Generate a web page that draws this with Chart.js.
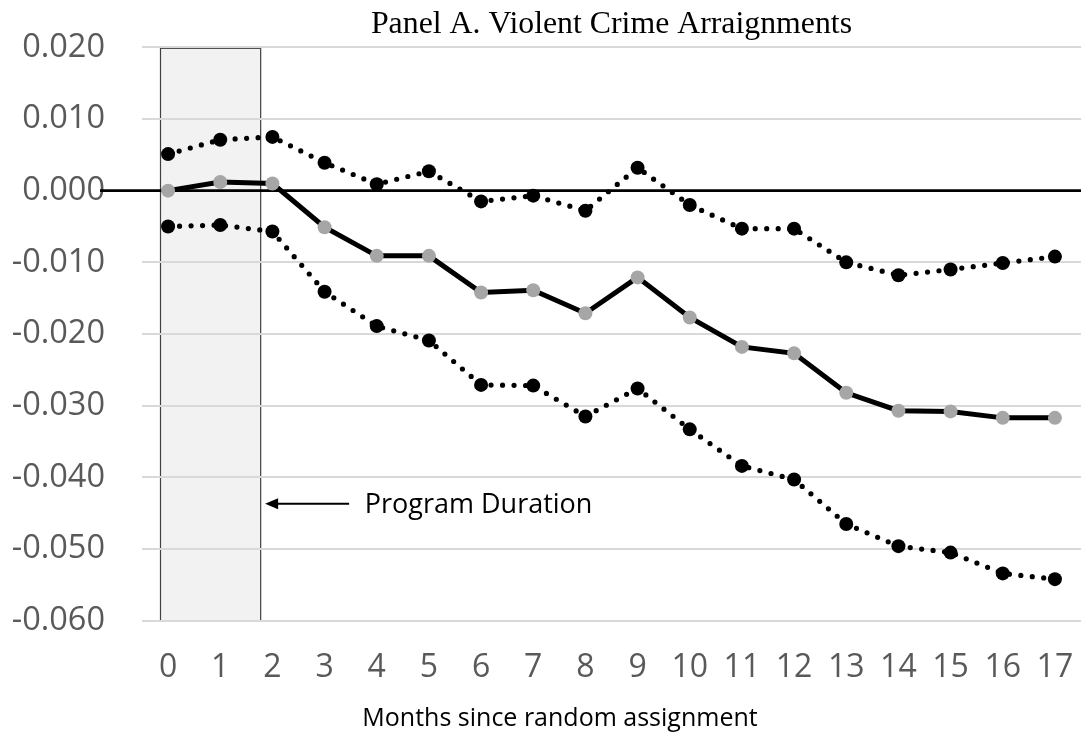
<!DOCTYPE html>
<html>
<head>
<meta charset="utf-8">
<title>Panel A. Violent Crime Arraignments</title>
<script src="https://cdn.jsdelivr.net/npm/chart.js@4.4.1/dist/chart.umd.min.js"></script>
<style>
  html, body { margin: 0; padding: 0; background: #ffffff; overflow: hidden; }
  #wrap { position: relative; width: 1081px; height: 734px; }
  #wrap canvas { display: block; }
</style>
</head>
<body>
<div id="wrap"><canvas id="chart"></canvas></div>
<script>
// Months since random assignment
const months = ['0','1','2','3','4','5','6','7','8','9','10','11','12','13','14','15','16','17'];

// Point estimate and confidence bounds
const estimate = [0.0000, 0.0012, 0.0010, -0.0051, -0.0091, -0.0091, -0.0142, -0.0139, -0.0171,
                  -0.0121, -0.0177, -0.0218, -0.0227, -0.0282, -0.0307, -0.0308, -0.0317, -0.0317];
const upperBound = [0.0051, 0.0071, 0.0075, 0.0039, 0.0009, 0.0027, -0.0015, -0.0007, -0.0028,
                    0.0032, -0.0020, -0.0053, -0.0053, -0.0100, -0.0118, -0.0110, -0.0101, -0.0092];
const lowerBound = [-0.0050, -0.0048, -0.0057, -0.0141, -0.0189, -0.0209, -0.0271, -0.0272, -0.0315,
                    -0.0276, -0.0333, -0.0384, -0.0403, -0.0465, -0.0496, -0.0505, -0.0534, -0.0542];

// Y axis range and step
const yMin = -0.06, yMax = 0.02, yStep = 0.01;

// Program period shading (in month units on the category axis)
const programStart = -0.15, programEnd = 1.77;

const titleText = 'Panel A. Violent Crime Arraignments';
const xTitleText = 'Months since random assignment';
const programText = 'Program Duration';

const tickFont = "'Open Sans', 'Noto Sans', sans-serif";

const overlay = {
  id: 'overlay',
  beforeDraw(chart) {
    const { ctx, scales: { x, y } } = chart;
    // shaded program-duration box
    const x0 = x.getPixelForValue(programStart);
    const x1 = x.getPixelForValue(programEnd);
    const y0 = y.getPixelForValue(yMax);
    const y1 = y.getPixelForValue(yMin);
    ctx.save();
    ctx.fillStyle = '#f2f2f2';
    ctx.fillRect(x0, y0, x1 - x0, y1 - y0);
    ctx.strokeStyle = '#404040';
    ctx.lineWidth = 1.2;
    ctx.strokeRect(Math.round(x0) + 0.5, y0 + 1, x1 - x0, y1 - y0 - 1);
    ctx.restore();
  },
  beforeDatasetsDraw(chart) {
    const { ctx, chartArea, scales: { x, y } } = chart;
    ctx.save();
    // zero reference line
    const yz = y.getPixelForValue(0);
    ctx.strokeStyle = '#000000';
    ctx.lineWidth = 2.6;
    ctx.beginPath();
    ctx.moveTo(chartArea.left - 42, yz);
    ctx.lineTo(chartArea.right, yz);
    ctx.stroke();

    // arrow pointing at the program box
    const ay = y.getPixelForValue(-0.0437);
    const tipX = x.getPixelForValue(1.86);
    const tailX = x.getPixelForValue(3.47);
    ctx.lineWidth = 2;
    ctx.beginPath();
    ctx.moveTo(tipX + 8, ay);
    ctx.lineTo(tailX, ay);
    ctx.stroke();
    ctx.fillStyle = '#000000';
    ctx.beginPath();
    ctx.moveTo(tipX, ay);
    ctx.lineTo(tipX + 13, ay - 5.5);
    ctx.lineTo(tipX + 13, ay + 5.5);
    ctx.closePath();
    ctx.fill();

    ctx.font = "27px " + tickFont;
    ctx.textAlign = 'left';
    ctx.textBaseline = 'middle';
    ctx.fillText(programText, x.getPixelForValue(3.77), ay + 1);
    ctx.restore();
  },
  afterDraw(chart) {
    const { ctx, chartArea } = chart;
    ctx.save();
    ctx.fillStyle = '#000000';
    ctx.textAlign = 'center';
    ctx.textBaseline = 'alphabetic';
    ctx.font = "31.8px 'Liberation Serif', 'Times New Roman', serif";
    ctx.fillText(titleText, (chartArea.left + chartArea.right) / 2, 33);
    ctx.font = "25px " + tickFont;
    ctx.fillText(xTitleText, 560, 726);
    ctx.restore();
  }
};

new Chart(document.getElementById('chart'), {
  type: 'line',
  data: {
    labels: months,
    datasets: [
      {
        label: 'Estimate',
        data: estimate,
        borderColor: '#000000',
        borderWidth: 5,
        pointRadius: 7,
        pointBackgroundColor: '#a6a6a6',
        pointBorderWidth: 0,
        tension: 0
      },
      {
        label: 'Upper bound',
        data: upperBound,
        borderColor: '#000000',
        borderWidth: 5.2,
        borderDash: [0, 11.5],
        borderCapStyle: 'round',
        pointRadius: 7,
        pointBackgroundColor: '#000000',
        pointBorderWidth: 0,
        tension: 0
      },
      {
        label: 'Lower bound',
        data: lowerBound,
        borderColor: '#000000',
        borderWidth: 5.2,
        borderDash: [0, 11.5],
        borderCapStyle: 'round',
        pointRadius: 7,
        pointBackgroundColor: '#000000',
        pointBorderWidth: 0,
        tension: 0
      }
    ]
  },
  options: {
    responsive: true,
    maintainAspectRatio: false,
    animation: false,
    layout: { autoPadding: false, padding: { top: 47.3, left: 0, right: 0, bottom: 0 } },
    plugins: {
      legend: { display: false },
      title: { display: false },
      tooltip: { enabled: false }
    },
    scales: {
      x: {
        type: 'category',
        offset: true,
        grid: { display: false, drawTicks: false },
        border: { display: false },
        ticks: {
          color: '#595959',
          font: { family: tickFont, size: 32 },
          padding: 28,
          maxRotation: 0,
          autoSkip: false
        },
        afterFit(scale) {
          scale.height = 113.3;
          scale.paddingLeft = 0;
          scale.paddingRight = 0;
        }
      },
      y: {
        min: yMin,
        max: yMax,
        grid: { color: '#d9d9d9', lineWidth: 2, drawTicks: false },
        border: { display: false },
        ticks: {
          stepSize: yStep,
          color: '#595959',
          font: { family: tickFont, size: 32.5 },
          padding: 37,
          callback: (v) => v.toFixed(3)
        },
        afterFit(scale) {
          scale.width = 142;
          scale.paddingTop = 0;
          scale.paddingBottom = 0;
        }
      }
    }
  },
  plugins: [overlay]
});
</script>
</body>
</html>
